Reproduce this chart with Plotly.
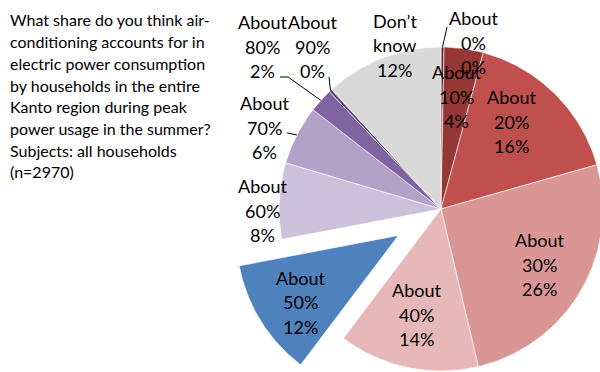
import numpy as np
import plotly.graph_objects as go

# Survey answers, clockwise from 12 o'clock
categories = ["About 0%", "About 10%", "About 20%", "About 30%", "About 40%", "About 50%",
              "About 60%", "About 70%", "About 80%", "About 90%", "Don’t know"]
shares = [0.3, 3.9, 16.4, 25.7, 14.0, 11.7, 7.6, 5.9, 2.4, 0.3, 11.8]

colors = ["#632523", "#953735", "#C0504D", "#D99694", "#E6B9B8", "#4F81BD",
          "#CCC1DA", "#B3A2C7", "#8064A2", "#604A7B", "#D9D9D9"]
pull = [0, 0, 0, 0, 0, 0.31, 0, 0, 0, 0, 0]

# label placement: (radius as fraction of pie radius, angle clockwise from top)
label_pos = [(1.045, 11.2), (0.70, 7.6), (0.69, 38.8), (0.70, 119.5), (0.67, 192.8),
             (0.73, 235.6), (1.10, 269.4), (1.20, 294.7), (1.486, 312.3), (1.275, 321.7),
             (1.051, 344.3)]
# leader lines for labels sitting outside the pie: slice index -> polar points near the label
leaders = {0: [(1.124, 1.9)], 7: [(1.06, 296.3)], 8: [(1.285, 309.35), (1.247, 310.8)],
           9: [(1.069, 319.7)]}

title_lines = ["What share do you think air-", "conditioning accounts for in",
               "electric power consumption", "by households in the entire",
               "Kanto region during peak", "power usage in the summer?",
               "Subjects: all households", "(n=2970)"]

FONT = "Lato"
W, H = 600, 372
CX, CY, R = 441, 209, 162   # pie centre and radius in pixels
LABEL_LEAD = 24.5 / R        # line spacing of slice labels, in pie radii
TITLE_TOP, TITLE_LEAD = 20, 21.7


def polar(r, deg, origin=(0.0, 0.0)):
    a = np.radians(deg)
    return origin[0] + r * np.sin(a), origin[1] + r * np.cos(a)


vals = np.asarray(shares, dtype=float)
fracs = vals / vals.sum()
ends = np.cumsum(fracs) * 360.0
starts = ends - fracs * 360.0
mids = (starts + ends) / 2

fig = go.Figure()
origins = []
for i, cat in enumerate(categories):
    ox, oy = polar(pull[i], mids[i])
    origins.append((ox, oy))
    th = np.linspace(starts[i], ends[i], max(4, int(fracs[i] * 720)))
    ax, ay = polar(1.0, th, (ox, oy))
    xs = np.concatenate([[ox], ax, [ox]])
    ys = np.concatenate([[oy], ay, [oy]])
    fig.add_trace(go.Scatter(x=xs, y=ys, mode="lines", fill="toself",
                             fillcolor=colors[i], line=dict(color="white", width=0.6),
                             name=cat, hoverinfo="name"))

# leader lines
for i, pts in leaders.items():
    lx, ly = [], []
    for r, a in pts:
        px, py = polar(r, a)
        lx.append(px)
        ly.append(py)
    ex, ey = polar(1.0, mids[i], origins[i])
    lx.append(ex)
    ly.append(ey)
    fig.add_trace(go.Scatter(x=lx, y=ly, mode="lines", line=dict(color="black", width=1),
                             hoverinfo="skip"))

annotations = []
for i, cat in enumerate(categories):
    r, a = label_pos[i]
    x, y = polar(r, a, origins[i])
    lines = cat.split(" ") + [f"{round(shares[i])}%"]
    for k, line in enumerate(lines):
        annotations.append(dict(x=x, y=y + (1 - k) * LABEL_LEAD, xref="x", yref="y",
                                text=line, showarrow=False,
                                xanchor="center", yanchor="middle",
                                font=dict(family=FONT, size=18, color="black")))

for k, line in enumerate(title_lines):
    annotations.append(dict(x=8 / W, y=1 - (TITLE_TOP + k * TITLE_LEAD) / H,
                            xref="paper", yref="paper", text=line, showarrow=False,
                            xanchor="left", yanchor="middle", align="left",
                            font=dict(family=FONT, size=16, color="black")))

fig.update_layout(
    width=W, height=H, margin=dict(l=0, r=0, t=0, b=0),
    paper_bgcolor="white", plot_bgcolor="white", showlegend=False,
    xaxis=dict(visible=False, range=[-CX / R, (W - CX) / R], fixedrange=True),
    yaxis=dict(visible=False, range=[(CY - H) / R, CY / R], fixedrange=True),
    annotations=annotations,
)

fig.write_html("out.html")
